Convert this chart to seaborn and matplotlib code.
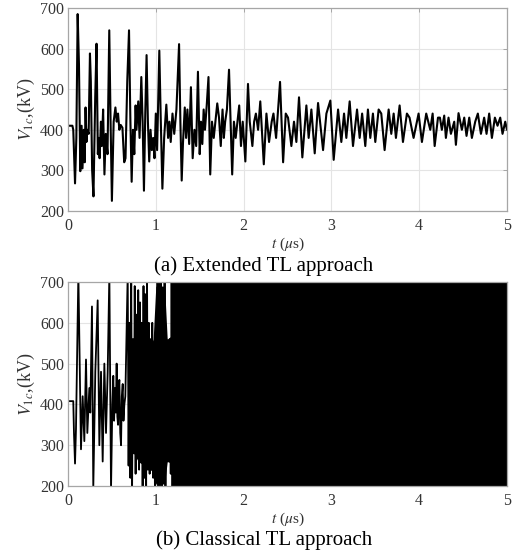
import numpy as np
import pandas as pd
import matplotlib
matplotlib.use("Agg")
import matplotlib.pyplot as plt
import seaborn as sns

# ---------------- data ----------------
ext_t = [0.00, 0.05, 0.06, 0.08, 0.095, 0.11, 0.125, 0.14, 0.155, 0.165, 0.18, 0.19, 0.20, 0.21, 0.22,
         0.235, 0.25, 0.26, 0.275, 0.29, 0.31, 0.325, 0.34, 0.35, 0.36, 0.375, 0.385, 0.40, 0.415, 0.43,
         0.45, 0.47, 0.485, 0.50, 0.52, 0.54, 0.555, 0.57, 0.585, 0.60, 0.62, 0.64, 0.655, 0.675, 0.695,
         0.71, 0.725, 0.74, 0.755, 0.77, 0.78, 0.80, 0.815, 0.835, 0.85, 0.865, 0.88, 0.895, 0.91, 0.925,
         0.94, 0.955, 0.97, 0.985, 1.00, 1.015, 1.04, 1.055, 1.075, 1.095, 1.12, 1.14, 1.155, 1.17, 1.19,
         1.21, 1.235, 1.265, 1.28, 1.295, 1.31, 1.33, 1.345, 1.36, 1.38, 1.40, 1.42, 1.44, 1.46, 1.48,
         1.50, 1.515, 1.53, 1.545, 1.56, 1.58, 1.60, 1.62, 1.64, 1.66, 1.70, 1.72, 1.74, 1.76, 1.775,
         1.79, 1.81, 1.834, 1.87, 1.89, 1.91, 1.95, 1.97, 1.99, 2.02, 2.05, 2.07, 2.10, 2.12, 2.14,
         2.165, 2.19, 2.23, 2.26, 2.29, 2.32, 2.34, 2.37, 2.415, 2.45, 2.48, 2.506, 2.544, 2.574, 2.601,
         2.631, 2.669, 2.715, 2.741, 2.772, 2.81, 2.848, 2.886, 2.905, 2.943, 2.988, 3.026, 3.076, 3.113,
         3.144, 3.17, 3.208, 3.246, 3.292, 3.322, 3.35, 3.386, 3.416, 3.443, 3.473, 3.50, 3.538, 3.568,
         3.606, 3.652, 3.682, 3.709, 3.735, 3.777, 3.815, 3.86, 3.89, 3.936, 3.993, 4.031, 4.08, 4.126,
         4.153, 4.176, 4.214, 4.236, 4.258, 4.285, 4.304, 4.334, 4.361, 4.399, 4.418, 4.448, 4.486,
         4.513, 4.539, 4.57, 4.60, 4.638, 4.668, 4.703, 4.74, 4.767, 4.797, 4.828, 4.862, 4.892, 4.923,
         4.949, 4.98, 5.0]
ext_v = [410, 410, 400, 268, 380, 685, 560, 298, 410, 305, 400, 320, 455, 370, 400,
         390, 588, 520, 300, 236, 480, 612, 340, 380, 330, 420, 360, 450, 290, 390,
         340, 645, 420, 225, 420, 455, 420, 440, 400, 412, 405, 320, 330, 520, 645,
         430, 272, 400, 340, 460, 400, 470, 380, 530, 420, 250, 440, 584, 420, 322,
         400, 350, 380, 330, 440, 350, 595, 440, 255, 380, 462, 380, 420, 370, 440,
         390, 450, 611, 420, 275, 370, 455, 380, 450, 365, 505, 330, 400, 360, 543,
         340, 420, 365, 450, 400, 460, 530, 290, 420, 380, 465, 430, 360, 450, 380,
         420, 450, 548, 290, 420, 380, 460, 360, 420, 322, 513, 420, 360, 420, 440,
         400, 470, 315, 440, 370, 420, 440, 380, 518, 320, 440, 430, 360, 420, 370,
         480, 332, 460, 380, 450, 342, 466, 390, 350, 440, 472, 326, 450, 370,
         440, 380, 470, 360, 450, 380, 440, 360, 450, 380, 440, 370, 450, 440,
         350, 450, 390, 440, 380, 460, 370, 440, 430, 380, 440, 370, 440, 400,
         440, 360, 430, 430, 400, 435, 380, 430, 390, 420, 363, 441, 400,
         430, 385, 430, 380, 420, 440, 390, 430, 390, 440, 380, 430, 410, 430,
         390, 420, 400]

cls_t = [0.00, 0.06, 0.068, 0.08, 0.091, 0.118, 0.148, 0.167, 0.186, 0.205, 0.22, 0.243, 0.254, 0.273,
         0.288, 0.311, 0.338, 0.357, 0.376, 0.395, 0.414, 0.433, 0.452, 0.471, 0.49, 0.505, 0.516, 0.525,
         0.535, 0.545, 0.554, 0.562, 0.57, 0.578, 0.585, 0.595, 0.604, 0.613, 0.623, 0.632, 0.642, 0.653,
         0.68, 0.69, 0.70, 0.71, 0.72, 0.73, 0.74, 0.75, 0.76,
         0.77, 0.78, 0.79, 0.80, 0.81, 0.82, 0.83, 0.84, 0.85, 0.86, 0.87, 0.88, 0.89, 0.90, 0.91, 0.92,
         0.93, 0.94, 0.95, 0.96, 0.97, 0.98, 0.99, 1.00, 1.01, 1.02, 1.03, 1.04, 1.05, 1.06, 1.07, 1.08,
         1.09, 1.10, 1.11, 1.12, 1.13, 1.14, 1.15, 1.16, 1.17, 1.18, 1.19, 1.20, 1.21, 1.22, 1.23]
cls_v = [408, 408, 330, 255, 340, 720, 290, 420, 310, 510, 330, 440, 380, 640,
         195, 480, 655, 300, 480, 260, 500, 330, 480, 720, 190, 400, 470, 360,
         440, 380, 500, 370, 350, 440, 460, 330, 300, 420, 450, 360, 400, 420,
         720, 250, 600, 220, 720, 190, 560, 280, 690,
         230, 620, 300, 680, 240, 650, 260, 600, 190, 690, 220, 670, 190, 720, 240, 600,
         230, 560, 280, 600, 220, 550, 190, 540, 230, 720, 190, 700, 200, 720, 190, 650,
         210, 720, 190, 560, 260, 540, 270, 560, 230, 720, 190, 720, 190, 720, 190]

# envelope of the unresolved high-frequency oscillation (classical approach)
band_t = [0.70, 0.80, 0.90, 0.97, 1.00, 1.10, 1.13, 1.19, 1.21, 5.0]
band_lo = [300, 260, 245, 235, 205, 205, 260, 255, 190, 190]
band_hi = [470, 500, 520, 560, 690, 690, 560, 570, 710, 710]

x_ticks = [0, 1, 2, 3, 4, 5]
y_ticks = [200, 300, 400, 500, 600, 700]
captions = ["(a) Extended TL approach", "(b) Classical TL approach"]

# ---------------- style ----------------
sns.set_style("white")
plt.rcParams['font.family'] = ['Liberation Serif', 'DejaVu Serif']
plt.rcParams['mathtext.fontset'] = 'stix'

fig = plt.figure(figsize=(5.15, 5.53), dpi=100)
ax_top = fig.add_axes([68/515, 1-211/553, 439/515, 203/553])
ax_bot = fig.add_axes([68/515, 1-486/553, 439/515, 204/553])

df_ext = pd.DataFrame({"t": ext_t, "v": ext_v})
df_cls = pd.DataFrame({"t": cls_t, "v": cls_v})

sns.lineplot(data=df_ext, x="t", y="v", ax=ax_top, color="black", lw=1.5,
             sort=False, estimator=None)
ax_bot.fill_between(band_t, band_lo, band_hi, color="black", lw=0)
sns.lineplot(data=df_cls, x="t", y="v", ax=ax_bot, color="black", lw=1.3,
             sort=False, estimator=None)

tick_col = "#333333"
for ax in (ax_top, ax_bot):
    ax.set_xlim(0, 5)
    ax.set_ylim(200, 700)
    ax.set_xticks(x_ticks)
    ax.set_yticks(y_ticks)
    ax.grid(True, color="#e4e4e4", lw=0.8)
    ax.set_axisbelow(True)
    for s in ax.spines.values():
        s.set_color("#a6a6a6")
        s.set_linewidth(0.9)
    ax.tick_params(direction="in", top=True, right=True, length=3, width=0.7,
                   color="#a6a6a6", labelcolor=tick_col, labelsize=11.5, pad=5)
    ax.tick_params(axis="y", pad=3)
    ax.set_xlabel(r"$t$ ($\mu$s)", fontsize=11, color=tick_col, labelpad=1)
    ax.set_ylabel(r"$V_{1c}$,(kV)", fontsize=13, color=tick_col, labelpad=2)

fig.text(0.512, 1-266/553, captions[0], ha="center", va="center", fontsize=15, color="black")
fig.text(0.512, 1-540/553, captions[1], ha="center", va="center", fontsize=15, color="black")

fig.savefig("out.png", dpi=100)
